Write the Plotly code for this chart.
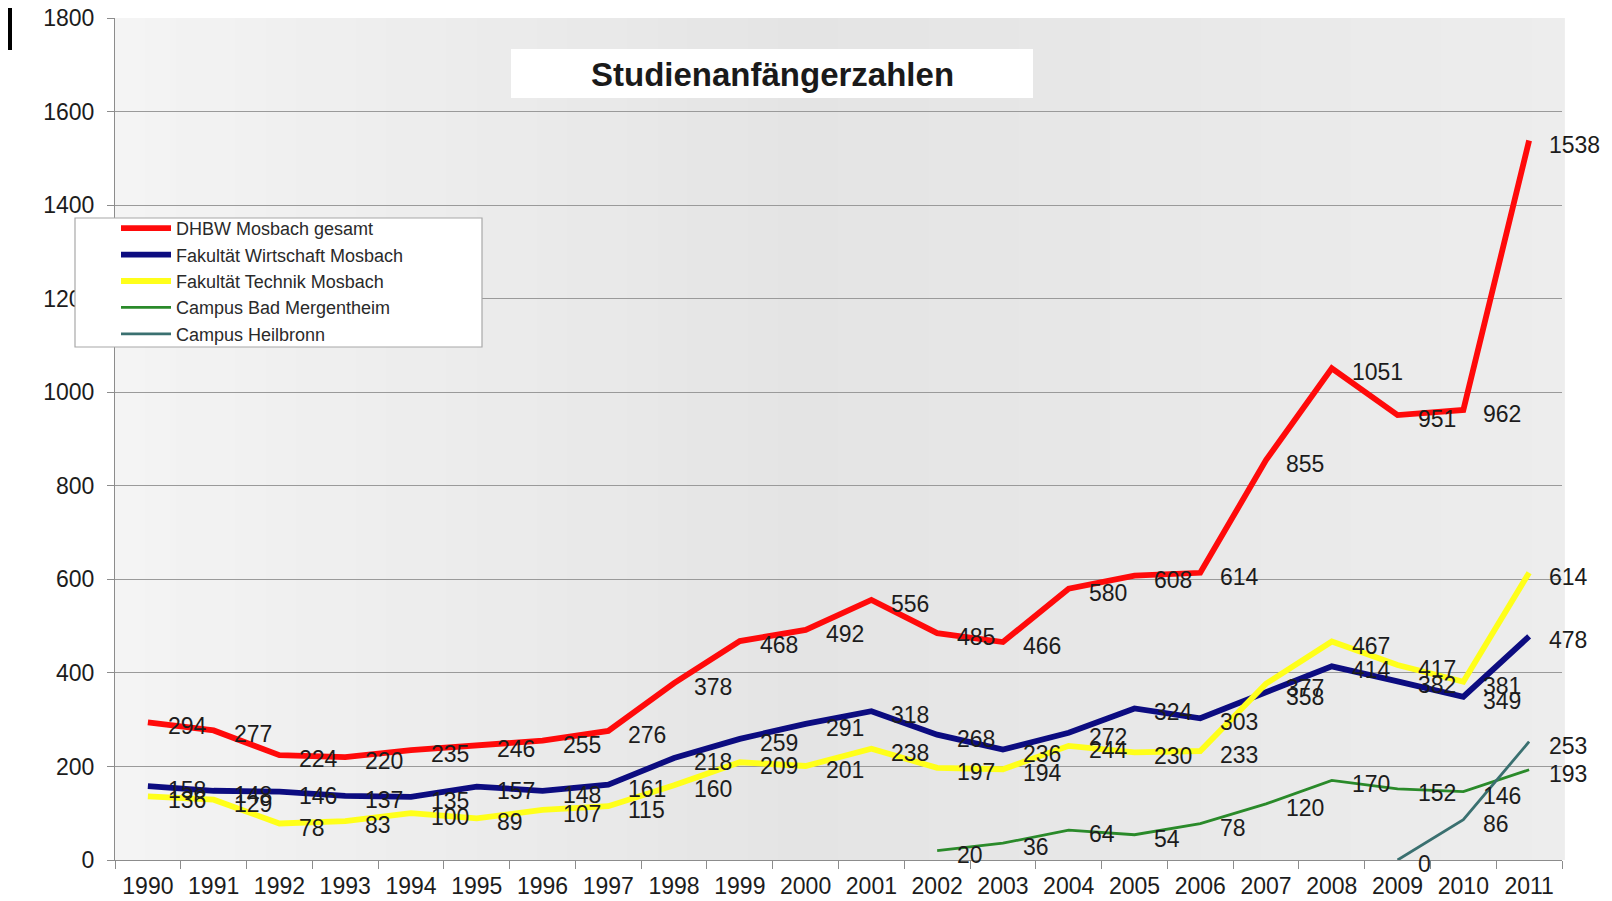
import plotly.graph_objects as go

# ---------------- data ----------------
years = ["1990", "1991", "1992", "1993", "1994", "1995", "1996", "1997", "1998", "1999", "2000",
         "2001", "2002", "2003", "2004", "2005", "2006", "2007", "2008", "2009", "2010", "2011"]

gesamt = [294, 277, 224, 220, 235, 246, 255, 276, 378, 468, 492,
          556, 485, 466, 580, 608, 614, 855, 1051, 951, 962, 1538]
wirtschaft = [158, 148, 146, 137, 135, 157, 148, 161, 218, 259, 291,
              318, 268, 236, 272, 324, 303, 358, 414, 382, 349, 478]
technik = [136, 129, 78, 83, 100, 89, 107, 115, 160, 209, 201,
           238, 197, 194, 244, 230, 233, 377, 467, 417, 381, 614]
mergentheim = [None, None, None, None, None, None, None, None, None, None, None,
               None, 20, 36, 64, 54, 78, 120, 170, 152, 146, 193]
heilbronn = [None, None, None, None, None, None, None, None, None, None, None,
             None, None, None, None, None, None, None, None, 0, 86, 253]

series_names = ["DHBW Mosbach gesamt", "Fakultät Wirtschaft Mosbach", "Fakultät Technik Mosbach",
                "Campus Bad Mergentheim", "Campus Heilbronn"]
series_values = [gesamt, wirtschaft, technik, mergentheim, heilbronn]
series_colors = ["#ff0a0a", "#0c0c80", "#ffff1a", "#2a8a2a", "#3a7070"]
series_widths = [5.8, 5.8, 5.8, 2.8, 2.8]

title_text = "Studienanfängerzahlen"

FONT = "Arial, 'Liberation Sans', sans-serif"
TXT = "#1c1c1c"

# plot-area geometry in pixels (figure 1612 x 901)
W, H = 1612, 901
L, R, T, B = 115, 1562, 18, 860
PW, PH = R - L, B - T
Y_MAX = 1800


def px(x):
    return (x - L) / PW


def py(y):
    return (B - y) / PH


fig = go.Figure()

for name, vals, col, w in zip(series_names, series_values, series_colors, series_widths):
    fig.add_trace(go.Scatter(
        x=years, y=vals, mode="lines", name=name,
        line=dict(color=col, width=w),
        connectgaps=False,
    ))

# data labels: to the right of each point (x given as the category index)
annotations = []
for vals in series_values:
    for idx, v in enumerate(vals):
        if v is None:
            continue
        annotations.append(dict(
            x=idx, y=v, xref="x", yref="y", text=str(v), showarrow=False,
            xanchor="left", yanchor="middle", xshift=18, yshift=-4,
            font=dict(family=FONT, size=23, color=TXT),
        ))

annotations.append(dict(
    text=f"<b>{title_text}</b>", xref="paper", yref="paper",
    x=px(772), y=py(74), xanchor="center", yanchor="middle",
    showarrow=False, font=dict(family=FONT, size=33, color="#1a1a1a"),
))

shapes = []
# soft horizontal gradient of the plot background
n = 48
for i in range(n):
    t = (i + 0.5) / n
    if t < 0.48:
        g = 244 - (244 - 228) * (t / 0.48)
    else:
        g = 228 + (237 - 228) * ((t - 0.48) / 0.52)
    g = int(round(g))
    shapes.append(dict(type="rect", xref="paper", yref="paper",
                       x0=i / n, x1=(i + 1) / n + 0.002, y0=0, y1=1,
                       fillcolor=f"rgb({g},{g},{g})", line=dict(width=0), layer="below"))

# title box
shapes.append(dict(type="rect", xref="paper", yref="paper",
                   x0=px(511), x1=px(1033), y0=py(98), y1=py(49),
                   fillcolor="white", line=dict(width=0), layer="above"))
# legend box
shapes.append(dict(type="rect", xref="paper", yref="paper",
                   x0=px(75), x1=px(482), y0=py(347), y1=py(218),
                   fillcolor="white", line=dict(color="#a8a8a8", width=1.2), layer="above"))
# small black bar in the top-left corner
shapes.append(dict(type="rect", xref="paper", yref="paper",
                   x0=px(8), x1=px(12), y0=py(50), y1=py(8),
                   fillcolor="black", line=dict(width=0), layer="above"))

fig.update_layout(
    width=W, height=H,
    margin=dict(l=L, r=W - R, t=T, b=H - B, pad=0),
    paper_bgcolor="white",
    plot_bgcolor="#e9e9e9",
    font=dict(family=FONT, color=TXT),
    shapes=shapes,
    annotations=annotations,
    legend=dict(
        x=px(116), y=py(210), xanchor="left", yanchor="top",
        bgcolor="rgba(0,0,0,0)", borderwidth=0,
        font=dict(family=FONT, size=18, color="#2a2a2a"),
        itemwidth=50, tracegroupgap=0,
    ),
    showlegend=True,
    hovermode=False,
    xaxis=dict(
        type="category", categoryorder="array", categoryarray=years,
        range=[-0.5, len(years) - 0.5],
        showgrid=False, showline=True, linecolor="#8c8c8c", linewidth=1.2,
        ticks="outside", tickson="boundaries", ticklen=8, tickcolor="#8c8c8c",
        tickfont=dict(family=FONT, size=23, color=TXT),
        ticklabelstandoff=5,
        zeroline=False, automargin=False,
    ),
    yaxis=dict(
        range=[0, Y_MAX], dtick=200, tick0=0,
        showgrid=True, gridcolor="#9a9a9a", gridwidth=1.2,
        showline=True, linecolor="#8c8c8c", linewidth=1.2,
        ticks="outside", ticklen=7, tickcolor="#8c8c8c",
        tickfont=dict(family=FONT, size=23, color=TXT),
        ticklabelstandoff=8,
        zeroline=False, automargin=False,
    ),
)

fig.write_html("out.html", config={"displayModeBar": False},
               post_script="document.body.style.margin='0';document.body.style.overflow='hidden';")
